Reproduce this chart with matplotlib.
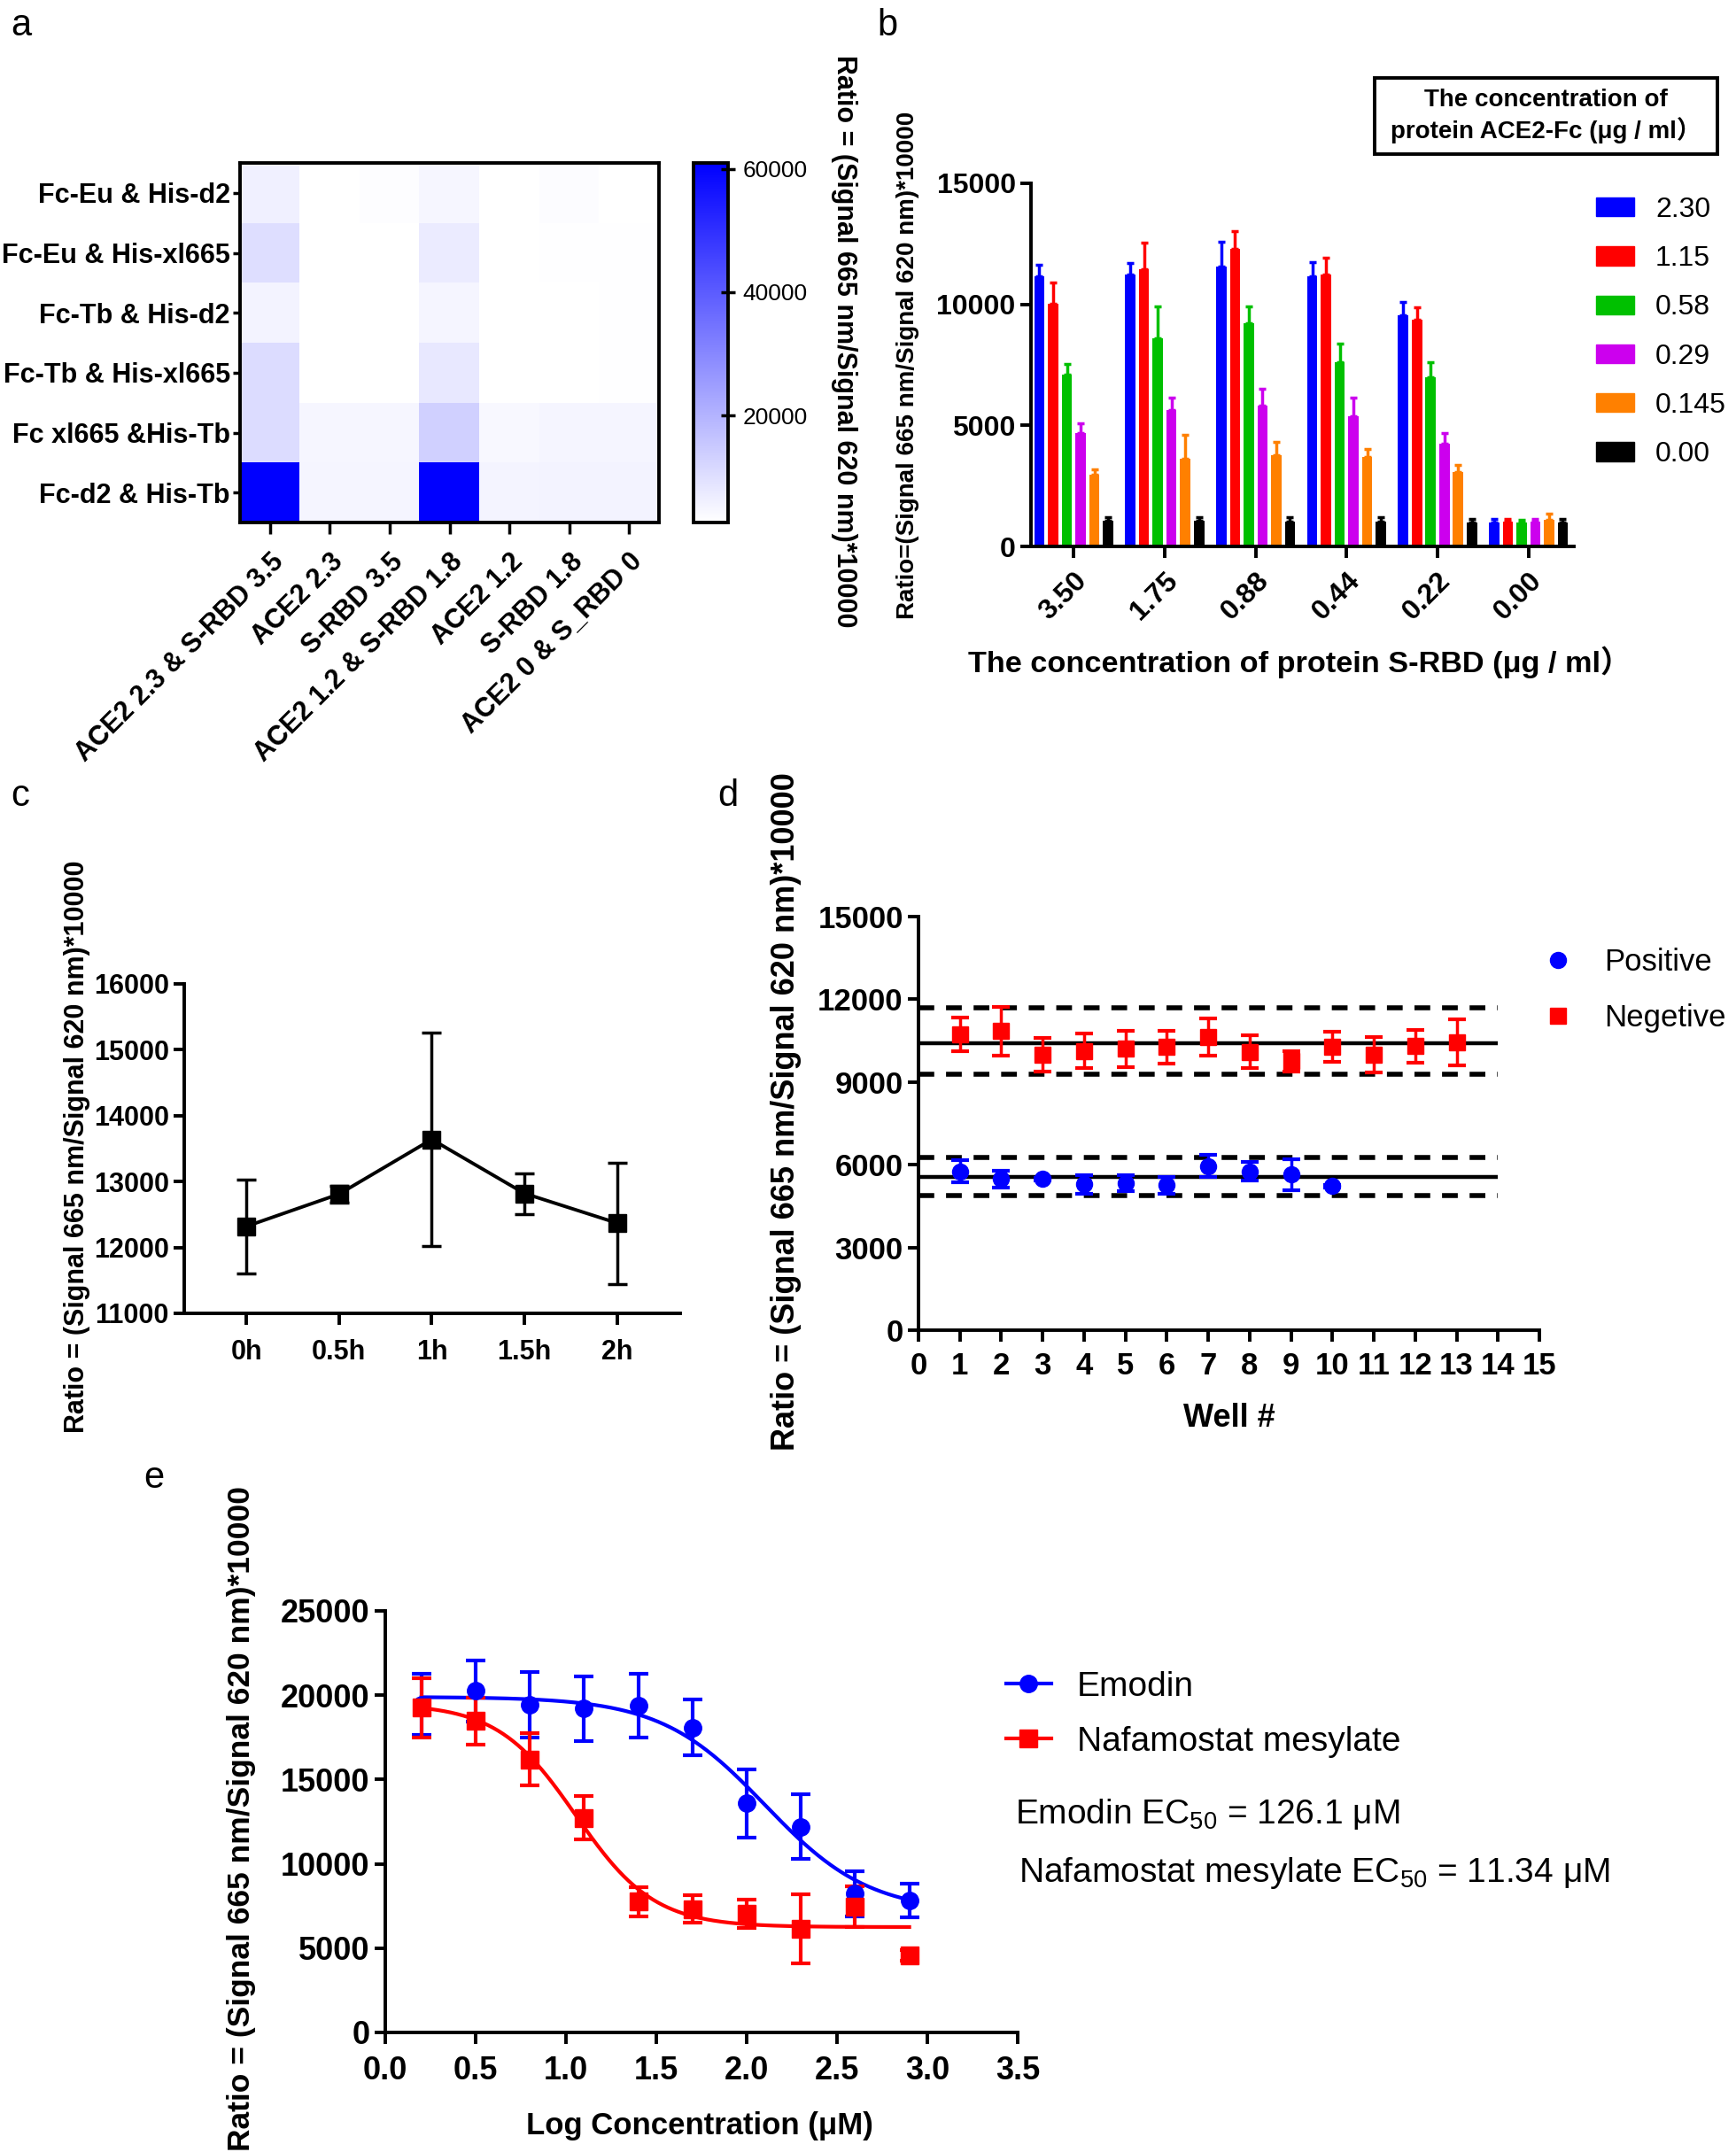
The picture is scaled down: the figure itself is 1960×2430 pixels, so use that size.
import numpy as np
import matplotlib
matplotlib.use('Agg')
import matplotlib.pyplot as plt
from matplotlib.colors import LinearSegmentedColormap
from matplotlib.patches import Rectangle, Patch
from matplotlib.lines import Line2D

plt.rcParams['font.family'] = ['Liberation Sans', 'Noto Sans CJK SC', 'DejaVu Sans']
plt.rcParams['mathtext.fontset'] = 'custom'
plt.rcParams['mathtext.rm'] = 'Liberation Sans'
plt.rcParams['axes.linewidth'] = 2.5

# ---------------- data ----------------
# panel a (heatmap)
hm_rows = ['Fc-Eu & His-d2', 'Fc-Eu & His-xl665', 'Fc-Tb & His-d2',
           'Fc-Tb & His-xl665', 'Fc xl665 &His-Tb', 'Fc-d2 & His-Tb']
hm_cols = ['ACE2 2.3 & S-RBD 3.5', 'ACE2 2.3', 'S-RBD 3.5',
           'ACE2 1.2 & S-RBD 1.8', 'ACE2 1.2', 'S-RBD 1.8', 'ACE2 0 & S_RBD 0']
hm_row1 = [6100, 2600, 3200, 4700, 2700, 3300, 2700]
hm_row2 = [10200, 2600, 2600, 7300, 2700, 3000, 2900]
hm_row3 = [5500, 2600, 2700, 4900, 2700, 2700, 3000]
hm_row4 = [10600, 2600, 2700, 7900, 2700, 2700, 3000]
hm_row5 = [10600, 4700, 4700, 13350, 4200, 5000, 5000]
hm_row6 = [61000, 5000, 5000, 61000, 5300, 5400, 5400]
hm_vmin, hm_vmax = 2600, 61000
cb_ticks = [20000, 40000, 60000]
cb_label = 'Ratio = (Signal 665 nm/Signal 620 nm)*10000'

# panel b (grouped bars)
b_groups = ['3.50', '1.75', '0.88', '0.44', '0.22', '0.00']
b_series = ['2.30', '1.15', '0.58', '0.29', '0.145', '0.00']
b_mean_230 = [11150, 11250, 11550, 11150, 9550, 970]
b_err_230 = [500, 450, 1030, 590, 550, 150]
b_mean_115 = [10020, 11460, 12300, 11220, 9350, 1020]
b_err_115 = [880, 1080, 740, 700, 520, 130]
b_mean_058 = [7080, 8610, 9220, 7600, 6990, 1000]
b_err_058 = [470, 1300, 690, 790, 610, 100]
b_mean_029 = [4700, 5650, 5830, 5390, 4230, 1020]
b_err_029 = [370, 500, 690, 760, 470, 110]
b_mean_0145 = [2980, 3630, 3760, 3690, 3070, 1080]
b_err_0145 = [220, 990, 560, 320, 280, 280]
b_mean_000 = [1060, 1060, 1020, 1020, 970, 970]
b_err_000 = [130, 150, 190, 190, 150, 150]
b_colors = ['#0000FF', '#FF0000', '#00C000', '#CC00EE', '#FF8000', '#000000']

# panel c
c_times = ['0h', '0.5h', '1h', '1.5h', '2h']
c_mean = [12320, 12810, 13640, 12820, 12370]
c_err = [710, 130, 1620, 310, 920]

# panel d
d_pos_wells = [1, 2, 3, 4, 5, 6, 7, 8, 9, 10]
d_pos_mean = [5760, 5480, 5480, 5290, 5330, 5260, 5950, 5760, 5650, 5220]
d_pos_err = [400, 300, 60, 330, 300, 300, 400, 330, 560, 60]
d_neg_wells = [1, 2, 3, 4, 5, 6, 7, 8, 9, 10, 11, 12, 13]
d_neg_mean = [10730, 10850, 9990, 10130, 10200, 10270, 10630, 10100, 9750,
              10270, 9990, 10300, 10440]
d_neg_err = [600, 880, 610, 620, 660, 600, 680, 590, 380, 550, 640, 600, 830]
d_pos_lines = [4870, 5570, 6260]     # lower, mean, upper
d_neg_lines = [9270, 10420, 11700]
d_line_end = 14

# panel e
e_logc = [0.2, 0.5, 0.8, 1.1, 1.4, 1.7, 2.0, 2.3, 2.6, 2.9]
e_emodin = [19450, 20250, 19450, 19200, 19380, 18080, 13580, 12200, 8230, 7840]
e_emodin_err = [1800, 1800, 1950, 1900, 1900, 1650, 2000, 1930, 1330, 1000]
e_nafa = [19250, 18470, 16200, 12720, 7760, 7320, 7050, 6140, 7450, 4570]
e_nafa_err = [1760, 1400, 1570, 1280, 870, 800, 850, 2060, 1200, 300]
e_emodin_ec50 = 126.1
e_nafa_ec50 = 11.34
e_emodin_fit = dict(top=19900, bottom=7100, hill=1.5)
e_nafa_fit = dict(top=19500, bottom=6250, hill=2.0)

# ---------------- figure ----------------
W, H = 1960, 2430
fig = plt.figure(figsize=(W / 100, H / 100), dpi=100)


def px_axes(x0, y0, x1, y1):
    return fig.add_axes([x0 / W, 1 - y1 / H, (x1 - x0) / W, (y1 - y0) / H])


def style_axes(ax, fs):
    for s in ['top', 'right']:
        ax.spines[s].set_visible(False)
    for s in ['left', 'bottom']:
        ax.spines[s].set_linewidth(2.8)
    ax.tick_params(direction='out', length=9, width=2.8, labelsize=fs)
    for lab in ax.get_xticklabels() + ax.get_yticklabels():
        lab.set_fontweight('bold')


BLUE = '#0000FF'
RED = '#FF0000'

# panel letters
for lx, ly, t in [(12, 40, 'a'), (990, 40, 'b'), (12, 910, 'c'), (810, 910, 'd'), (162, 1680, 'e')]:
    fig.text(lx / W, 1 - ly / H, t, fontsize=30, va='baseline', ha='left')

# ---------- panel a ----------
axa = px_axes(271, 184, 744, 590)
cmap = LinearSegmentedColormap.from_list('wb', ['#FFFFFF', '#0000FF'])
hm = np.array([hm_row1, hm_row2, hm_row3, hm_row4, hm_row5, hm_row6])
im = axa.imshow(hm, cmap=cmap, vmin=hm_vmin, vmax=hm_vmax, aspect='auto',
                interpolation='nearest')
axa.set_xticks(range(len(hm_cols)))
axa.set_xticklabels(hm_cols, rotation=45, ha='right', va='top',
                    rotation_mode='anchor', fontweight='bold', fontsize=22)
axa.set_yticks(range(len(hm_rows)))
axa.set_yticklabels(hm_rows, fontweight='bold', fontsize=22)
for sp in axa.spines.values():
    sp.set_linewidth(2.8)
axa.tick_params(axis='x', length=9, width=2.5, pad=12)
axa.tick_params(axis='y', length=6, width=2.5, pad=2)

cax = px_axes(783, 184, 822, 590)
cb = fig.colorbar(im, cax=cax, ticks=cb_ticks)
cb.outline.set_linewidth(2.8)
cax.tick_params(direction='inout', length=12, width=2.5, labelsize=19, pad=6)
fig.text(953 / W, 1 - 385 / H, cb_label, rotation=270, ha='center', va='center',
         fontsize=22, fontweight='bold')

# ---------- panel b ----------
axb = px_axes(1164, 207, 1777, 617)
b_means = [b_mean_230, b_mean_115, b_mean_058, b_mean_029, b_mean_0145, b_mean_000]
b_errs = [b_err_230, b_err_115, b_err_058, b_err_029, b_err_0145, b_err_000]
xg = np.arange(len(b_groups))
bw, step = 0.113, 0.151
for i, (name, col) in enumerate(zip(b_series, b_colors)):
    pos = xg + (i - 2.5) * step
    axb.bar(pos, b_means[i], width=bw, color=col, label=name, zorder=2)
    axb.errorbar(pos, b_means[i], yerr=[np.zeros(len(xg)), b_errs[i]], fmt='none',
                 ecolor=col, elinewidth=2.5, capsize=3, capthick=2.5, zorder=1)
axb.set_xlim(-0.47, 5.5)
axb.set_ylim(0, 15000)
axb.set_yticks([0, 5000, 10000, 15000])
axb.set_xticks(xg)
axb.set_xticklabels(b_groups)
style_axes(axb, 23)
axb.tick_params(axis='x', pad=8)
for lab in axb.get_xticklabels():
    lab.set_rotation(45)
    lab.set_ha('right')
    lab.set_va('top')
    lab.set_rotation_mode('anchor')
axb.set_ylabel('Ratio=(Signal 665 nm/Signal 620 nm)*10000', fontsize=20, fontweight='bold')
axb.yaxis.set_label_coords(-0.205, 0.5)
axb.set_xlabel('The concentration of protein S-RBD (μg / ml）', fontsize=24.7, fontweight='bold')
axb.xaxis.set_label_coords(0.494, -0.275)
handles = [Patch(facecolor=c, edgecolor=c) for c in b_colors]
axb.legend(handles, b_series, loc='upper left', bbox_to_anchor=(1802 / W, 1 - 222 / H),
           bbox_transform=fig.transFigure, frameon=False, fontsize=23,
           handlelength=1.35, handleheight=0.65, handletextpad=0.75,
           labelspacing=0.79, borderpad=0, borderaxespad=0)
fig.add_artist(Rectangle((1552 / W, 1 - 174 / H), (1939 - 1552) / W, (174 - 88) / H,
                         transform=fig.transFigure, fill=False, lw=2.8, edgecolor='k'))
fig.text(1745 / W, 1 - 131 / H, 'The concentration of\nprotein ACE2-Fc (μg / ml）',
         ha='center', va='center', fontsize=20, fontweight='bold', linespacing=1.25)

# ---------- panel c ----------
axc = px_axes(208, 1111, 768, 1483)
xc = np.arange(len(c_times))
axc.errorbar(xc, c_mean, yerr=c_err, color='k', marker='s', ms=14, lw=2.8,
             elinewidth=2.5, capsize=8, capthick=2.5)
axc.set_xlim(-0.67, 4.68)
axc.set_ylim(11000, 16000)
axc.set_yticks(np.arange(11000, 16001, 1000))
axc.set_xticks(xc)
axc.set_xticklabels(c_times)
style_axes(axc, 22)
axc.tick_params(axis='x', pad=12)
axc.set_ylabel('Ratio = (Signal 665 nm/Signal 620 nm)*10000', fontsize=22, fontweight='bold')
axc.yaxis.set_label_coords(-0.19, 0.505)

# ---------- panel d ----------
axd = px_axes(1037, 1035, 1738, 1502)
axd.hlines(d_pos_lines[1], 0, d_line_end, colors='k', lw=3.2, zorder=1)
axd.hlines(d_neg_lines[1], 0, d_line_end, colors='k', lw=3.2, zorder=1)
axd.hlines([d_pos_lines[0], d_pos_lines[2], d_neg_lines[0], d_neg_lines[2]], 0, d_line_end,
           colors='k', lw=4, linestyles=(0, (3.2, 2.4)), zorder=1)
axd.errorbar(d_pos_wells, d_pos_mean, yerr=d_pos_err, fmt='o', color=BLUE, ms=13,
             elinewidth=2.5, capsize=7, capthick=3, label='Positive', zorder=3)
axd.errorbar(d_neg_wells, d_neg_mean, yerr=d_neg_err, fmt='s', color=RED, ms=13,
             elinewidth=2.5, capsize=7, capthick=3, label='Negetive', zorder=3)
axd.set_xlim(0, 15)
axd.set_ylim(0, 15000)
axd.set_xticks(range(0, 16))
axd.set_yticks(range(0, 15001, 3000))
style_axes(axd, 25)
axd.tick_params(axis='x', pad=8)
axd.set_ylabel('Ratio = (Signal 665 nm/Signal 620 nm)*10000', fontsize=26, fontweight='bold')
axd.yaxis.set_label_coords(-0.188, 0.529)
axd.set_xlabel('Well #', fontsize=26, fontweight='bold')
axd.xaxis.set_label_coords(0.5, -0.175)
hd = [Line2D([], [], ls='none', marker='o', color=BLUE, ms=13),
      Line2D([], [], ls='none', marker='s', color=RED, ms=13)]
axd.legend(hd, ['Positive', 'Negetive'], loc='upper left',
           bbox_to_anchor=(1742 / W, 1 - 1070 / H), bbox_transform=fig.transFigure,
           frameon=False, fontsize=25, handlelength=1.0, handletextpad=1.0,
           labelspacing=0.87, borderpad=0, borderaxespad=0)

# ---------- panel e ----------
axe = px_axes(435, 1819, 1149, 2295)


def fourpl(x, top, bottom, logec50, hill):
    return bottom + (top - bottom) / (1 + 10 ** ((x - logec50) * hill))


xs = np.linspace(min(e_logc), max(e_logc), 300)
axe.plot(xs, fourpl(xs, logec50=np.log10(e_emodin_ec50), **e_emodin_fit), color=BLUE, lw=3)
axe.plot(xs, fourpl(xs, logec50=np.log10(e_nafa_ec50), **e_nafa_fit), color=RED, lw=3)
axe.errorbar(e_logc, e_emodin, yerr=e_emodin_err, fmt='o', color=BLUE, ms=14,
             elinewidth=3, capsize=8, capthick=3, zorder=3)
axe.errorbar(e_logc, e_nafa, yerr=e_nafa_err, fmt='s', color=RED, ms=14,
             elinewidth=3, capsize=8, capthick=3, zorder=3)
axe.set_xlim(0, 3.5)
axe.set_ylim(0, 25000)
axe.set_xticks(np.arange(0, 3.51, 0.5))
axe.set_xticklabels([f'{v:.1f}' for v in np.arange(0, 3.51, 0.5)])
axe.set_yticks(range(0, 25001, 5000))
style_axes(axe, 26)
axe.tick_params(axis='x', pad=10)
axe.set_ylabel('Ratio = (Signal 665 nm/Signal 620 nm)*10000', fontsize=25.5, fontweight='bold')
axe.yaxis.set_label_coords(-0.205, 0.508)
axe.set_xlabel('Log Concentration (μM)', fontsize=25, fontweight='bold')
axe.xaxis.set_label_coords(0.497, -0.187)
he = [Line2D([], [], color=BLUE, marker='o', ms=14, lw=3),
      Line2D([], [], color=RED, marker='s', ms=14, lw=3)]
axe.legend(he, ['Emodin', 'Nafamostat mesylate'], loc='upper left',
           bbox_to_anchor=(1136 / W, 1 - 1887 / H), bbox_transform=fig.transFigure,
           frameon=False, fontsize=28, handlelength=1.3, handletextpad=0.75,
           labelspacing=0.67, borderpad=0, borderaxespad=0)
fig.text(1146 / W, 1 - 2048 / H, f'Emodin EC$_\\mathregular{{50}}$ = {e_emodin_ec50} μM',
         fontsize=28, va='center', ha='left')
fig.text(1150 / W, 1 - 2115 / H, f'Nafamostat mesylate EC$_\\mathregular{{50}}$ = {e_nafa_ec50} μM',
         fontsize=28, va='center', ha='left')

fig.savefig('out.png', dpi=100)
